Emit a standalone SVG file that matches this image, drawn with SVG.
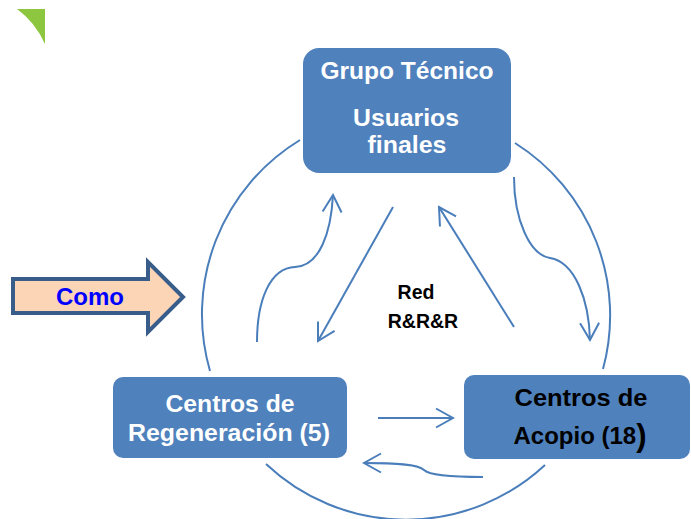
<svg xmlns="http://www.w3.org/2000/svg" width="691" height="519" viewBox="0 0 691 519">
  <defs>
    <style>
      .box { fill: #4F81BD; }
      .lbl { font-family: "Liberation Sans", Arial, sans-serif; font-weight: bold; text-anchor: middle; }
      .w { fill: #FFFFFF; font-size: 23px; }
      .k { fill: #000000; font-size: 24px; }
      .conn { fill: none; stroke: #4A7EBB; stroke-width: 2; }
      .ring { fill: none; stroke: #4A7EBB; stroke-width: 2; }
    </style>
    <marker id="open" viewBox="-18 -11 20 22" markerWidth="20" markerHeight="22" refX="0" refY="0" orient="auto" markerUnits="userSpaceOnUse">
      <path d="M-17,-9.5 L0,0 L-17,9.5" fill="none" stroke="#4A7EBB" stroke-width="2"/>
    </marker>
  </defs>
  <rect width="691" height="519" fill="#FFFFFF"/>

  <!-- corner decoration -->
  <path id="corner" d="M17,9 L45,9 L45,44 Q35,22 17,9 Z" fill="#8DC63F"/>

  <!-- ring and connectors -->
  <g id="connectors">
    <path class="ring" d="M300,140 A204,204 0 0 0 210,371"/>
    <path class="ring" d="M515,143 A204,204 0 0 1 603,369"/>
    <path class="ring" d="M266,464 A204,204 0 0 0 545,465"/>
    <path class="conn" marker-end="url(#open)" d="M257,342 C257,300 270,268 295,267 C320,266 331,232 333,195"/>
    <path class="conn" marker-end="url(#open)" d="M393,207 L318,341"/>
    <path class="conn" marker-end="url(#open)" d="M514,327 L439,207"/>
    <path class="conn" marker-end="url(#open)" d="M514,177 C514,220 530,255 550,258 C575,262 589,300 590,340"/>
    <path class="conn" marker-end="url(#open)" d="M378,418 L453,418"/>
    <path class="conn" marker-end="url(#open)" d="M483,477 C460,477 430,476 424,470 C418,464 395,463 364,463"/>
  </g>

  <g id="grupo">
    <rect class="box" x="303" y="48" width="208" height="125" rx="16"/>
    <text class="lbl w" x="407" y="79" textLength="173" lengthAdjust="spacingAndGlyphs">Grupo Técnico</text>
    <text class="lbl w" x="406" y="126" textLength="106" lengthAdjust="spacingAndGlyphs">Usuarios</text>
    <text class="lbl w" x="407" y="153" textLength="79" lengthAdjust="spacingAndGlyphs">finales</text>
  </g>

  <g id="regeneracion">
    <rect class="box" x="113" y="377" width="234" height="81" rx="10"/>
    <text class="lbl w" x="230" y="412" textLength="129" lengthAdjust="spacingAndGlyphs">Centros de</text>
    <text class="lbl w" x="229" y="441" textLength="202" lengthAdjust="spacingAndGlyphs">Regeneración (5)</text>
  </g>

  <g id="acopio">
    <rect class="box" x="464" y="375" width="226" height="84" rx="10"/>
    <text class="lbl k" x="581" y="406" textLength="133" lengthAdjust="spacingAndGlyphs">Centros de</text>
    <text class="lbl k" x="580" y="444"><tspan>Acopio (18</tspan><tspan font-size="31" dy="2">)</tspan></text>
  </g>

  <g id="red">
    <text class="lbl" x="416" y="299" font-size="19.5" fill="#000000">Red</text>
    <text class="lbl" x="423" y="328" font-size="19.5" fill="#000000">R&amp;R&amp;R</text>
  </g>

  <g id="como">
    <path d="M13,279 L148,279 L148,262 L183,297 L148,332 L148,313 L13,313 Z" fill="#FBD5B5" stroke="#385D8A" stroke-width="4" stroke-linejoin="miter"/>
    <text class="lbl" x="90" y="305" font-size="24" fill="#0000FF">Como</text>
  </g>
</svg>
